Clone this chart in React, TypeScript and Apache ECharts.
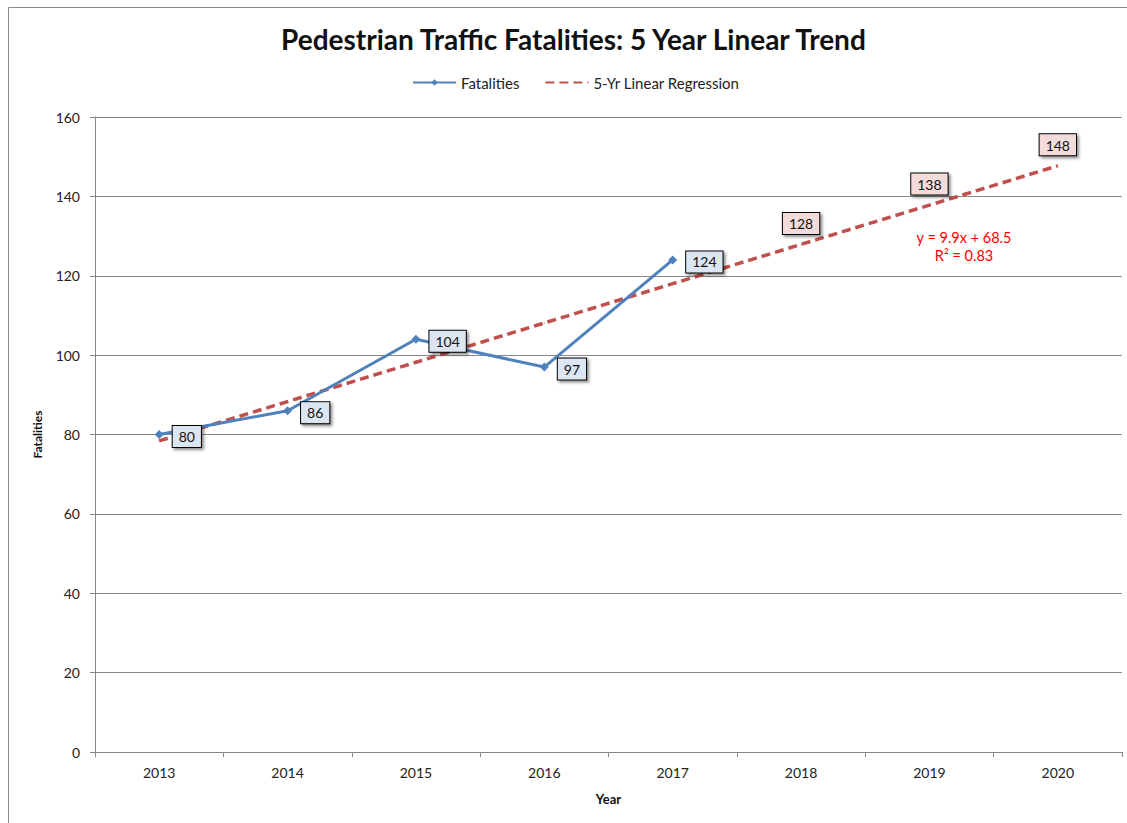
import React, { useEffect, useRef } from "react";
import * as echarts from "echarts";

const years = ["2013", "2014", "2015", "2016", "2017", "2018", "2019", "2020"];
const fatalities = [80, 86, 104, 97, 124];
const regression = [78.4, 88.3, 98.2, 108.1, 118.0, 127.9, 137.8, 147.7];
const projectedFrom = 5;
const equationLines = ["y = 9.9x + 68.5", "R² = 0.83"];

const FONT = "Lato, 'Noto Sans', sans-serif";

export default function App() {
  const ref = useRef<HTMLDivElement>(null);
  useEffect(() => {
    if (!ref.current) return;
    const chart = echarts.init(ref.current, null, { renderer: "svg" });
    const boxLabel = {
      color: "#111",
      fontFamily: FONT,
      fontSize: 14,
      borderColor: "#000",
      borderWidth: 1,
      padding: [4, 6, 3, 6],
      shadowColor: "rgba(0,0,0,0.45)",
      shadowBlur: 3,
      shadowOffsetX: 2,
      shadowOffsetY: 2,
    };
    const regressionData = regression.map((v, i) =>
      i >= projectedFrom ? v : { value: v, label: { show: false } }
    );
    chart.setOption({
      animation: false,
      backgroundColor: "#fff",
      textStyle: { fontFamily: FONT },
      title: {
        text: "Pedestrian Traffic Fatalities: 5 Year Linear Trend",
        left: 276,
        top: 20,
        textStyle: { fontFamily: FONT, fontSize: 28, fontWeight: "bold", color: "#111" },
      },
      legend: {
        left: 407,
        top: 70,
        itemWidth: 43,
        itemHeight: 8,
        itemGap: 25,
        textStyle: { fontFamily: FONT, fontSize: 15, color: "#222" },
        data: [
          { name: "Fatalities" },
          { name: "5-Yr Linear Regression", itemStyle: { opacity: 0 } },
        ],
      },
      grid: { left: 95, right: 5, top: 117, bottom: 71 },
      xAxis: {
        type: "category",
        data: years,
        boundaryGap: true,
        name: "Year",
        nameLocation: "middle",
        nameGap: 40,
        nameTextStyle: { fontFamily: FONT, fontSize: 13, fontWeight: "bold", color: "#111" },
        axisLine: { lineStyle: { color: "#888", width: 1 } },
        axisTick: { show: true, length: 5, lineStyle: { color: "#888" } },
        axisLabel: { color: "#222", fontFamily: FONT, fontSize: 14, margin: 13 },
      },
      yAxis: {
        type: "value",
        min: 0,
        max: 160,
        interval: 20,
        name: "Fatalities",
        nameLocation: "middle",
        nameGap: 52,
        nameTextStyle: { fontFamily: FONT, fontSize: 12, fontWeight: "bold", color: "#111" },
        axisLine: { show: true, lineStyle: { color: "#888", width: 1 } },
        axisTick: { show: true, length: 5, lineStyle: { color: "#888" } },
        axisLabel: { color: "#222", fontFamily: FONT, fontSize: 14, margin: 15 },
        splitLine: { lineStyle: { color: "#888", width: 1 } },
      },
      series: [
        {
          name: "5-Yr Linear Regression",
          type: "line",
          data: regressionData,
          symbol: "circle",
          symbolSize: 1,
          showSymbol: true,
          z: 2,
          lineStyle: { color: "#C0504D", width: 3.5, type: [9, 5] },
          itemStyle: { color: "#C0504D" },
          label: {
            show: true,
            position: "top",
            distance: 10,
            ...boxLabel,
            backgroundColor: "#F2DCDB",
            formatter: (p: any) => String(Math.round(p.value)),
          },
        },
        {
          name: "Fatalities",
          type: "line",
          data: fatalities,
          symbol: "diamond",
          symbolSize: 9,
          z: 3,
          lineStyle: { color: "#4F81BD", width: 3 },
          itemStyle: { color: "#4F81BD" },
          label: {
            show: true,
            position: "right",
            distance: 9,
            offset: [0, 2],
            ...boxLabel,
            backgroundColor: "#DCE6F2",
          },
        },
      ],
      graphic: [
        {
          type: "rect",
          silent: true,
          shape: { x: 8.5, y: 7.5, width: 1130, height: 830 },
          style: { fill: "none", stroke: "#8a8a8a", lineWidth: 1 },
          z: -1,
        },
        {
          type: "text",
          silent: true,
          x: 964,
          y: 237,
          style: {
            text: equationLines[0],
            fill: "#FF0000",
            font: `14.5px ${FONT}`,
            align: "center",
            verticalAlign: "middle",
          },
        },
        {
          type: "text",
          silent: true,
          x: 964,
          y: 255,
          style: {
            text: equationLines[1],
            fill: "#FF0000",
            font: `14.5px ${FONT}`,
            align: "center",
            verticalAlign: "middle",
          },
        },
      ],
    });
    return () => chart.dispose();
  }, []);
  return (
    <div
      ref={ref}
      style={{ position: "fixed", left: 0, top: 0, width: 1127, height: 823 }}
    />
  );
}
